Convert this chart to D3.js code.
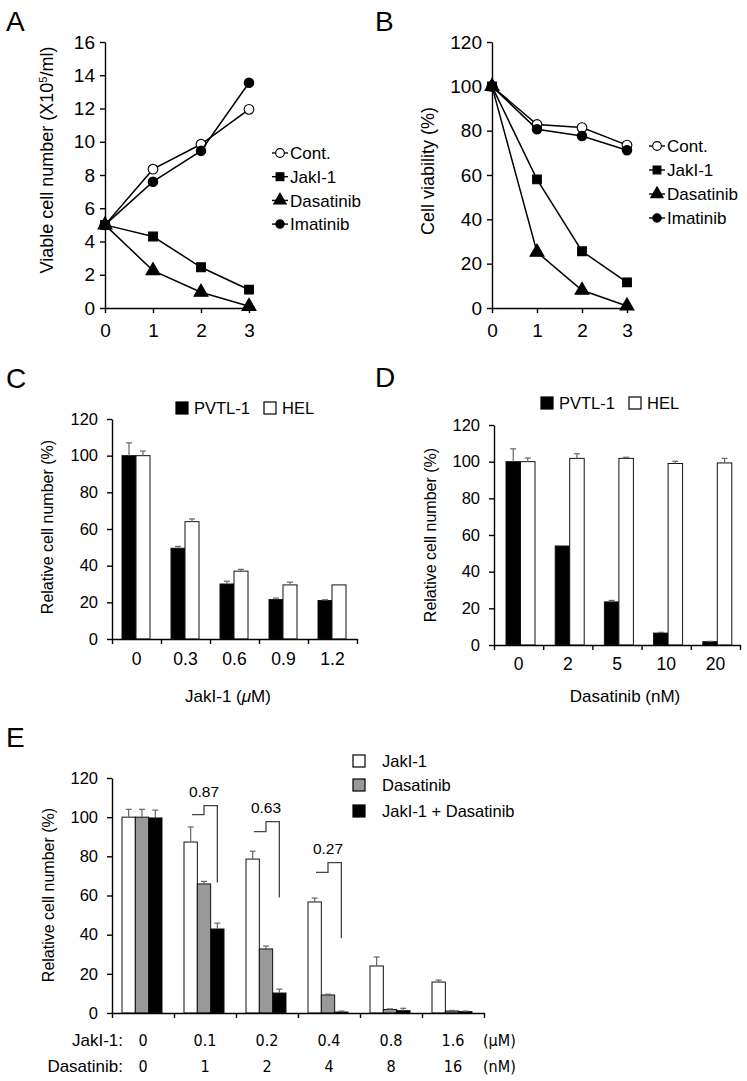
<!DOCTYPE html>
<html>
<head>
<meta charset="utf-8">
<script src="https://cdn.jsdelivr.net/npm/d3@7"></script>
<style>
body { margin: 0; background: #fff; }
svg { display: block; font-family: "Liberation Sans", Arial, Helvetica, sans-serif; }
.axis path, .axis line { stroke: #000; stroke-width: 1.4; }
.axis text { fill: #000; font-family: "Liberation Sans", Arial, Helvetica, sans-serif; }
.big text { font-size: 19px; }
.mid text { font-size: 16.5px; }
.xl text { font-size: 17.5px; }
.rowlab text { font-family: "DejaVu Sans Condensed", "DejaVu Sans", sans-serif; font-size: 16px; }
</style>
</head>
<body>
<div id="fig"></div>
<script>
// ---- panel A / B: time course (days) ----
var days = [0, 1, 2, 3];
var lineNames = ["Cont.", "JakI-1", "Dasatinib", "Imatinib"];
var countCont = [5.0, 8.35, 9.85, 11.95];
var countJak = [5.0, 4.3, 2.45, 1.1];
var countDas = [5.0, 2.25, 0.95, 0.1];
var countIma = [5.0, 7.6, 9.45, 13.55];
var viabCont = [100, 82.8, 81.4, 73.5];
var viabJak = [100, 58, 25.6, 11.6];
var viabDas = [100, 25.2, 8, 0.9];
var viabIma = [100, 80.6, 77.6, 71.2];
var ticksA = [0, 2, 4, 6, 8, 10, 12, 14, 16];
var ticksPct = [0, 20, 40, 60, 80, 100, 120];

// ---- panel C: JakI-1 dose ----
var cellNames = ["PVTL-1", "HEL"];
var jakDoses = ["0", "0.3", "0.6", "0.9", "1.2"];
var cPvtl = [100, 49.5, 30, 21.5, 21];
var cPvtlErr = [7, 1, 1.5, 0.8, 0.4];
var cHel = [100, 64, 37, 29.5, 29.5];
var cHelErr = [2.5, 1.5, 1, 1.5, 0];

// ---- panel D: dasatinib dose ----
var dasDoses = ["0", "2", "5", "10", "20"];
var dPvtl = [100, 54, 23.5, 6.5, 1.8];
var dPvtlErr = [7, 0, 0.8, 0.4, 0.2];
var dHel = [100, 101.8, 101.8, 99, 99.3];
var dHelErr = [2, 2.5, 0.6, 1.2, 2.5];

// ---- panel E: combination ----
var comboNames = ["JakI-1", "Dasatinib", "JakI-1 + Dasatinib"];
var comboJak = ["0", "0.1", "0.2", "0.4", "0.8", "1.6"];
var comboDas = ["0", "1", "2", "4", "8", "16"];
var eJak = [100, 87.3, 78.6, 56.7, 24, 15.8];
var eJakErr = [4, 7.7, 4, 2, 4.6, 1];
var eDas = [100, 65.9, 32.7, 9.2, 1.8, 1];
var eDasErr = [4, 1.3, 1.5, 0.4, 0.3, 0.3];
var eCombo = [99.6, 42.9, 10.2, 0.5, 1.2, 0.7];
var eComboErr = [4, 3, 2, 0.5, 1.2, 0.3];
var ciGroups = [1, 2, 3];
var ciLabels = ["0.87", "0.63", "0.27"];
var ciLow = [101.3, 92.6, 71.8];
var ciHigh = [105.9, 97.7, 76.8];
var ciEnd = [66.7, 59, 38.2];

(function () {
    "use strict";

    var svg = d3.select("#fig").append("svg")
        .attr("width", 747).attr("height", 1081);
    svg.append("rect").attr("width", 747).attr("height", 1081).attr("fill", "#fff");

    function letter (txt, x, y) {
        svg.append("text").attr("x", x).attr("y", y)
            .style("font-size", "28px").text(txt);
    }

    //rotated y axis title centred on (cx, cy)
    function yTitle (cx, cy, size) {
        return svg.append("text")
            .attr("transform", "translate(" + cx + "," + cy + ") rotate(-90)")
            .attr("text-anchor", "middle").attr("dy", "0.35em")
            .style("font-size", size + "px");
    }

    function drawLineChart (cfg) {
        var x = d3.scaleLinear().domain([0, 3]).range(cfg.xr),
            y = d3.scaleLinear().domain([0, cfg.ymax]).range(cfg.yr),
            line = d3.line().x(function (d) { return x(d[0]); })
                            .y(function (d) { return y(d[1]); }),
            shapes = [d3.symbolCircle, d3.symbolSquare, d3.symbolTriangle, d3.symbolCircle],
            sizes = [74, 76, 84, 70],
            fills = ["#fff", "#000", "#000", "#000"],
            g = svg.append("g");
        g.append("g").attr("class", "axis big")
            .attr("transform", "translate(0," + cfg.yr[0] + ")")
            .call(d3.axisBottom(x).tickValues(days).tickFormat(d3.format("d"))
                  .tickSize(5).tickPadding(11).tickSizeOuter(0));
        g.append("g").attr("class", "axis big")
            .attr("transform", "translate(" + cfg.xr[0] + ",0)")
            .call(d3.axisLeft(y).tickValues(cfg.ticks)
                  .tickSize(5).tickPadding(5).tickSizeOuter(0));
        cfg.series.forEach(function (vals, i) {
            var pts = days.map(function (d, j) { return [d, vals[j]]; });
            g.append("path").attr("d", line(pts))
                .attr("fill", "none").attr("stroke", "#000").attr("stroke-width", 1.5);
            g.selectAll(null).data(pts).enter().append("path")
                .attr("transform", function (d) {
                    return "translate(" + x(d[0]) + "," + y(d[1]) + ")"; })
                .attr("d", d3.symbol().type(shapes[i]).size(sizes[i]))
                .attr("fill", fills[i]).attr("stroke", "#000").attr("stroke-width", 1.1);
        });
        //legend
        lineNames.forEach(function (name, i) {
            var ly = cfg.legY + i * cfg.legStep, lx = cfg.legX;
            g.append("line").attr("x1", lx).attr("x2", lx + 16)
                .attr("y1", ly).attr("y2", ly)
                .attr("stroke", "#000").attr("stroke-width", 1.4);
            g.append("path").attr("transform", "translate(" + (lx + 8) + "," + ly + ")")
                .attr("d", d3.symbol().type(shapes[i]).size(sizes[i] * 0.8))
                .attr("fill", fills[i]).attr("stroke", "#000").attr("stroke-width", 1.1);
            g.append("text").attr("x", lx + 18).attr("y", ly).attr("dy", "0.36em")
                .style("font-size", "17px").text(name);
        });
    }

    function errBars (g, x, y, vals, errs, w) {
        vals.forEach(function (v, i) {
            var cx = x(i) + w / 2, top = y(v), up = y(v + errs[i]);
            if(errs[i] <= 0) {
                return; }
            g.append("line").attr("x1", cx).attr("x2", cx)
                .attr("y1", top).attr("y2", up)
                .attr("stroke", "#666").attr("stroke-width", 1.2);
            g.append("line").attr("x1", cx - 3).attr("x2", cx + 3)
                .attr("y1", up).attr("y2", up)
                .attr("stroke", "#666").attr("stroke-width", 1.2);
        });
    }

    function drawBarChart (cfg) {
        var n = cfg.groups.length,
            x0 = d3.scaleBand().domain(d3.range(n)).range(cfg.xr),
            xt = d3.scaleLinear().domain([0, n]).range(cfg.xr),
            x1 = d3.scaleBand().domain(d3.range(cfg.series.length)).range(cfg.inner),
            y = d3.scaleLinear().domain([0, 120]).range(cfg.yr),
            g = svg.append("g"), lab;
        cfg.series.forEach(function (s, si) {
            var xs = function (i) { return x0(i) + x1(si); };
            g.selectAll(null).data(s.values).enter().append("rect")
                .attr("x", function (d, i) { return xs(i); })
                .attr("y", function (d) { return y(d); })
                .attr("width", x1.bandwidth())
                .attr("height", function (d) { return y(0) - y(d); })
                .attr("fill", s.fill).attr("stroke", "#111").attr("stroke-width", 1);
            errBars(g, xs, y, s.values, s.errs, x1.bandwidth());
        });
        g.append("g").attr("class", "axis mid")
            .attr("transform", "translate(" + cfg.xr[0] + ",0)")
            .call(d3.axisLeft(y).tickValues(ticksPct)
                  .tickSize(5).tickPadding(9).tickSizeOuter(0));
        g.append("g").attr("class", "axis")
            .attr("transform", "translate(0," + cfg.yr[0] + ")")
            .call(d3.axisBottom(xt).tickValues(d3.range(n + 1)).tickFormat("")
                  .tickSize(5).tickSizeOuter(0));
        if(cfg.labelPad) {
            lab = g.append("g").attr("class", "axis xl")
                .attr("transform", "translate(0," + cfg.yr[0] + ")")
                .call(d3.axisBottom(x0).tickSize(0).tickPadding(cfg.labelPad)
                      .tickFormat(function (d) { return cfg.groups[d]; }));
            lab.select(".domain").remove(); }
        return {g: g, x0: x0, x1: x1, y: y};
    }

    function barLegend (x, y, names, fills) {
        var pos = x;
        names.forEach(function (name, i) {
            svg.append("rect").attr("x", pos).attr("y", y - 6)
                .attr("width", 12).attr("height", 12)
                .attr("fill", fills[i]).attr("stroke", "#000").attr("stroke-width", 1.2);
            svg.append("text").attr("x", pos + 18).attr("y", y).attr("dy", "0.36em")
                .style("font-size", "16.5px").text(name);
            pos += 88;
        });
    }

    // ---------- A ----------
    letter("A", 6, 31);
    drawLineChart({xr: [105, 249], yr: [308, 42], ymax: 16, ticks: ticksA,
                   series: [countCont, countJak, countDas, countIma],
                   legX: 272, legY: 153, legStep: 23.7});
    yTitle(47, 160, 18).call(function (t) {
        t.append("tspan").text("Viable cell number (X10");
        t.append("tspan").attr("baseline-shift", "super").style("font-size", "11px").text("5");
        t.append("tspan").text("/ml)");
    });

    // ---------- B ----------
    letter("B", 375, 31);
    drawLineChart({xr: [492, 627], yr: [308, 42], ymax: 120, ticks: ticksPct,
                   series: [viabCont, viabJak, viabDas, viabIma],
                   legX: 649, legY: 146, legStep: 24});
    yTitle(428, 171, 18).text("Cell viability (%)");

    // ---------- C ----------
    letter("C", 6, 388);
    drawBarChart({groups: jakDoses, xr: [112, 357], yr: [639, 419], inner: [10, 38],
                  labelPad: 14,
                  series: [{values: cPvtl, errs: cPvtlErr, fill: "#000"},
                           {values: cHel, errs: cHelErr, fill: "#fff"}]});
    barLegend(176, 408, cellNames, ["#000", "#fff"]);
    yTitle(47, 527, 16).text("Relative cell number (%)");
    svg.append("text").attr("x", 228).attr("y", 702).attr("text-anchor", "middle")
        .style("font-size", "17px")
        .call(function (t) {
            t.append("tspan").text("JakI-1 (");
            t.append("tspan").style("font-style", "italic").text("\u03bc");
            t.append("tspan").text("M)");
        });

    // ---------- D ----------
    letter("D", 375, 387);
    drawBarChart({groups: dasDoses, xr: [494, 740], yr: [645, 425], inner: [12, 41],
                  labelPad: 13,
                  series: [{values: dPvtl, errs: dPvtlErr, fill: "#000"},
                           {values: dHel, errs: dHelErr, fill: "#fff"}]});
    barLegend(541, 403, cellNames, ["#000", "#fff"]);
    yTitle(430, 535, 16).text("Relative cell number (%)");
    svg.append("text").attr("x", 625).attr("y", 702).attr("text-anchor", "middle")
        .style("font-size", "17px").text("Dasatinib (nM)");

    // ---------- E ----------
    letter("E", 6, 747);
    var e = drawBarChart({groups: comboJak, xr: [112, 484], yr: [1013, 778], inner: [10, 50],
                  labelPad: 0,
                  series: [{values: eJak, errs: eJakErr, fill: "#fff"},
                           {values: eDas, errs: eDasErr, fill: "#999"},
                           {values: eCombo, errs: eComboErr, fill: "#000"}]});
    yTitle(48, 895, 16).text("Relative cell number (%)");

    [[comboJak, 22, "JakI-1:", "(\u03bcM)"], [comboDas, 48, "Dasatinib:", "(nM)"]]
        .forEach(function (row) {
            var r = svg.append("g").attr("class", "axis rowlab")
                .attr("transform", "translate(0,1013)")
                .call(d3.axisBottom(e.x0).tickSize(0).tickPadding(row[1])
                      .tickFormat(function (d) { return row[0][d]; }));
            r.select(".domain").remove();
            svg.append("text").attr("x", 123).attr("y", 1013 + row[1] + 11)
                .attr("text-anchor", "end").style("font-size", "17px").text(row[2]);
            svg.append("text").attr("x", 483).attr("y", 1013 + row[1] + 11)
                .style("font-family", "'DejaVu Sans Condensed', 'DejaVu Sans', sans-serif")
                .style("font-size", "16px").text(row[3]);
        });

    //combination index brackets
    ciGroups.forEach(function (gi, k) {
        var gx = e.x0(gi) + e.x1(1) + e.x1.bandwidth() / 2,
            bx = e.x0(gi) + e.x1(2) + e.x1.bandwidth() / 2,
            lo = e.y(ciLow[k]), hi = e.y(ciHigh[k]), end = e.y(ciEnd[k]);
        e.g.append("path")
            .attr("d", "M" + (gx - 12) + "," + lo + "H" + gx + "V" + hi +
                       "H" + bx + "V" + end)
            .attr("fill", "none").attr("stroke", "#444").attr("stroke-width", 1.3);
        e.g.append("text").attr("x", gx).attr("y", hi - 9)
            .attr("text-anchor", "middle").style("font-size", "15.5px").text(ciLabels[k]);
    });

    comboNames.forEach(function (name, i) {
        var ly = [761, 785, 811][i];
        svg.append("rect").attr("x", 353).attr("y", ly - 6)
            .attr("width", 12).attr("height", 12)
            .attr("fill", ["#fff", "#999", "#000"][i])
            .attr("stroke", "#000").attr("stroke-width", 1.2);
        svg.append("text").attr("x", 382).attr("y", ly).attr("dy", "0.36em")
            .style("font-size", "16.5px").text(name);
    });
}());
</script>
</body>
</html>
